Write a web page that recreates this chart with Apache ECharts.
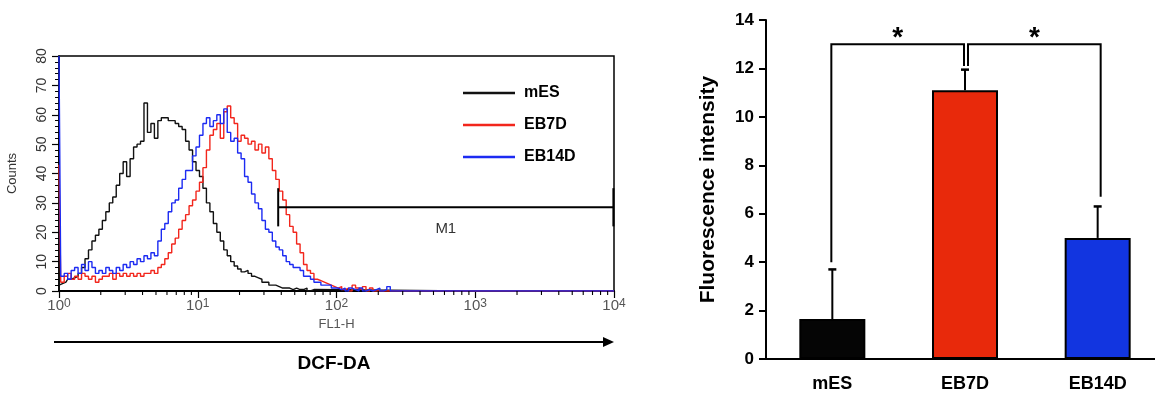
<!DOCTYPE html>
<html>
<head>
<meta charset="utf-8">
<script src="https://cdn.jsdelivr.net/npm/echarts@6/dist/echarts.min.js"></script>
<style>
html, body { margin: 0; padding: 0; background: #fff; }
#chart { width: 1155px; height: 398px; }
</style>
</head>
<body>
<div id="chart"></div>
<script>
// FL1-H histogram, counts per channel (40 channels per decade, channel 0 = 10^0)
var channelsPerDecade = 40;
var mesCounts = [2, 2.5, 3, 4, 4.5, 5, 6, 8, 11, 14, 17, 19, 21, 24, 27, 30, 32, 36, 40, 44,
  39, 45, 49, 50, 51, 64, 54, 57, 52, 58, 59, 59, 58, 58, 57, 56, 55, 51, 48, 44,
  41, 39, 35, 30, 27, 23, 20, 17, 14, 12, 10, 8.5, 7.5, 6.5, 7, 6, 5, 4.5, 4, 3,
  3, 2, 2, 1.5, 1, 1, 1, 0.5, 1, 0.5, 0.5, 1, 0, 0.5, 0];
var eb7dCounts = [43, 3, 5, 6, 4, 5, 4, 6, 5, 4, 5, 3, 4, 5, 5, 6, 4, 6, 5, 6, 5,
  6, 5, 6, 5, 6, 6, 7, 6, 8, 9, 11, 13, 16, 18, 21, 24, 26, 29, 31, 34,
  37, 42, 48, 53, 55, 57, 52, 61, 63, 59, 57, 51, 53, 52, 50, 51, 48, 50, 47, 49,
  45, 41, 38, 34, 31, 26, 22, 20, 16, 13, 9, 7, 6, 4, 3.5, 3, 2.5, 2, 1.5, 1,
  1.5, 0.5, 1, 0, 2, 1, 0.5, 1.5, 0, 1, 0];
var eb14dCounts = [80, 5, 6, 4, 7, 8, 6, 9, 7, 10, 8, 6, 7, 6, 8, 7, 6, 8, 7, 9, 8,
  10, 9, 11, 10, 12, 11, 13, 12, 17, 21, 23, 27, 30, 31, 35, 38, 41, 41, 46, 49,
  53, 57, 59, 56, 58, 60, 57, 62, 54, 51, 52, 47, 45, 39, 37, 33, 30, 28, 24, 21,
  20, 17, 15, 14, 12, 10, 9, 8, 8, 7, 5, 5, 4, 3, 3, 2, 2, 2, 1, 1,
  0.5, 1, 0, 1, 0.5, 0, 1, 0, 0.5, 0, 0.5, 1, 0, 0.5, 1.5, 0];
var histNames = ['mES', 'EB7D', 'EB14D'];
var histColors = ['#111111', '#f2261c', '#1c2bf2'];
var fl1Max = 10000;
var gateRange = [38, 9900];   // M1 marker
var gateLevel = 28.5;
var logMinorTicks = [2, 3, 4, 5, 6, 7, 8, 9, 20, 30, 40, 50, 60, 70, 80, 90,
  200, 300, 400, 500, 600, 700, 800, 900, 2000, 3000, 4000, 5000, 6000, 7000, 8000, 9000];

// bar chart
var groups = ['mES', 'EB7D', 'EB14D'];
var meanIntensity = [1.65, 11.1, 5.0];
var sdIntensity = [2.05, 0.85, 1.3];
var barColors = ['#050505', '#e8290b', '#1235e0'];
var bracketFrom = [0, 1];
var bracketTo = [1, 2];
var bracketStartY = [4.0, 12.1];
var bracketEndY = [12.1, 6.7];
var bracketTopY = 13;

var FONT = 'Liberation Sans, Arial, sans-serif';

function histData(counts) {
  var d = counts.map(function (c, i) { return [Math.pow(10, i / channelsPerDecade), c]; });
  d.push([fl1Max, 0]);
  return d;
}

var chart = echarts.init(document.getElementById('chart'), null, { renderer: 'canvas' });

var histSeries = [mesCounts, eb7dCounts, eb14dCounts].map(function (c, k) {
  return {
    name: histNames[k],
    type: 'line',
    xAxisIndex: 0,
    yAxisIndex: 0,
    data: histData(c),
    symbol: 'none',
    step: 'middle',
    clip: true,
    color: histColors[k],
    lineStyle: { color: histColors[k], width: 1.4 },
    z: 3
  };
});

chart.setOption({
  animation: false,
  backgroundColor: '#fff',
  textStyle: { fontFamily: FONT },
  grid: [
    { left: 59, top: 56, width: 555, height: 235, show: true, borderColor: '#000', borderWidth: 1.5,
      backgroundColor: 'transparent', outerBoundsMode: 'none', containLabel: false },
    { left: 766, top: 20, width: 398, height: 339, outerBoundsMode: 'none', containLabel: false }
  ],
  legend: {
    data: histNames,
    orient: 'vertical',
    left: 458,
    top: 80,
    icon: 'rect',
    itemWidth: 52,
    itemHeight: 2.5,
    itemGap: 16,
    textStyle: { fontFamily: FONT, fontWeight: 'bold', fontSize: 16, color: '#000', padding: [0, 0, 0, 4] }
  },
  xAxis: [
    {
      gridIndex: 0,
      type: 'log',
      logBase: 10,
      min: 1,
      max: fl1Max,
      name: 'FL1-H',
      nameLocation: 'middle',
      nameGap: 27,
      nameTextStyle: { fontFamily: FONT, fontSize: 13, color: '#555' },
      axisLine: { show: true, lineStyle: { color: '#000', width: 2 } },
      axisTick: { show: true, length: 7, lineStyle: { color: '#000', width: 1.2 } },
      splitLine: { show: false },
      minorSplitLine: { show: false },
      axisLabel: {
        margin: 7,
        color: '#555',
        fontSize: 15,
        fontFamily: FONT,
        formatter: function (v) {
          return '10{e|' + Math.round(Math.log10(v)) + '}';
        },
        rich: { e: { fontSize: 12, color: '#555', fontFamily: FONT, verticalAlign: 'top', lineHeight: 11 } }
      }
    },
    {
      gridIndex: 1,
      type: 'category',
      data: groups,
      axisLine: { show: true, lineStyle: { color: '#000', width: 2 } },
      axisTick: { show: false },
      splitLine: { show: false },
      axisLabel: { margin: 16, color: '#000', fontSize: 18, fontWeight: 'bold', fontFamily: FONT }
    }
  ],
  yAxis: [
    {
      gridIndex: 0,
      type: 'value',
      min: 0,
      max: 80,
      interval: 10,
      name: 'Counts',
      nameLocation: 'middle',
      nameRotate: 90,
      nameGap: 40,
      nameTextStyle: { fontFamily: FONT, fontSize: 13, color: '#333' },
      axisLine: { show: true, lineStyle: { color: '#000', width: 1.5 } },
      axisTick: { show: true, length: 7, lineStyle: { color: '#000', width: 1.2 } },
      minorTick: { show: true, splitNumber: 5, length: 4, lineStyle: { color: '#000', width: 1 } },
      splitLine: { show: false },
      minorSplitLine: { show: false },
      axisLabel: { rotate: 90, margin: 10, fontSize: 14, color: '#333', fontFamily: FONT }
    },
    {
      gridIndex: 1,
      type: 'value',
      min: 0,
      max: 14,
      interval: 2,
      name: 'Fluorescence intensity',
      nameLocation: 'middle',
      nameRotate: 90,
      nameGap: 47,
      nameTextStyle: { fontFamily: FONT, fontSize: 21, fontWeight: 'bold', color: '#000' },
      axisLine: { show: true, lineStyle: { color: '#000', width: 2 } },
      axisTick: { show: true, length: 7, lineStyle: { color: '#000', width: 2 } },
      splitLine: { show: false },
      axisLabel: { margin: 12, fontSize: 17, fontWeight: 'bold', color: '#000', fontFamily: FONT }
    }
  ],
  graphic: [
    { type: 'line', shape: { x1: 54, y1: 342, x2: 606, y2: 342 }, style: { stroke: '#000', lineWidth: 2 } },
    { type: 'polygon', shape: { points: [[603, 337], [614, 342], [603, 347]] }, style: { fill: '#000' } },
    { type: 'text', x: 334, y: 364, style: { text: 'DCF-DA', font: 'bold 19px ' + FONT, fill: '#000',
      align: 'center', verticalAlign: 'middle', textAlign: 'center', textVerticalAlign: 'middle' } }
  ],
  series: histSeries.concat([
    {
      type: 'custom',
      name: 'log minor ticks',
      xAxisIndex: 0,
      yAxisIndex: 0,
      silent: true,
      clip: false,
      z: 4,
      data: logMinorTicks.map(function (v) { return [v, 0]; }),
      renderItem: function (params, api) {
        var p = api.coord([api.value(0), 0]);
        return { type: 'line', shape: { x1: p[0], y1: p[1], x2: p[0], y2: p[1] + 4 },
          style: { stroke: '#000', lineWidth: 1.1 } };
      }
    },
    {
      type: 'custom',
      name: 'M1',
      xAxisIndex: 0,
      yAxisIndex: 0,
      silent: true,
      clip: false,
      z: 6,
      data: [[gateRange[0], gateRange[1], gateLevel]],
      renderItem: function (params, api) {
        var a = api.coord([api.value(0), api.value(2)]);
        var b = api.coord([api.value(1), api.value(2)]);
        var up = api.coord([api.value(0), api.value(2) + 6.5]);
        var h = a[1] - up[1];
        var mid = api.coord([Math.sqrt(api.value(0) * api.value(1)), api.value(2)]);
        return {
          type: 'group',
          children: [
            { type: 'line', shape: { x1: a[0], y1: a[1], x2: b[0], y2: b[1] }, style: { stroke: '#000', lineWidth: 2 } },
            { type: 'line', shape: { x1: a[0], y1: a[1] - h, x2: a[0], y2: a[1] + h }, style: { stroke: '#000', lineWidth: 2 } },
            { type: 'line', shape: { x1: b[0], y1: b[1] - h, x2: b[0], y2: b[1] + h }, style: { stroke: '#000', lineWidth: 2 } },
            { type: 'text', style: { text: 'M1', x: mid[0], y: mid[1] + 22, font: '15px ' + FONT, fill: '#333',
              align: 'center', verticalAlign: 'middle', textAlign: 'center', textVerticalAlign: 'middle' } }
          ]
        };
      }
    },
    {
      type: 'bar',
      name: 'Fluorescence intensity',
      xAxisIndex: 1,
      yAxisIndex: 1,
      barWidth: 66,
      data: meanIntensity.map(function (v, i) {
        return { value: v, itemStyle: { color: barColors[i], borderColor: '#000', borderWidth: 2 } };
      }),
      z: 2
    },
    {
      type: 'custom',
      name: 'SD',
      xAxisIndex: 1,
      yAxisIndex: 1,
      silent: true,
      z: 3,
      data: meanIntensity.map(function (v, i) { return [i, v, sdIntensity[i]]; }),
      renderItem: function (params, api) {
        var i = api.value(0);
        var base = api.coord([i, api.value(1)]);
        var top = api.coord([i, api.value(1) + api.value(2)]);
        return {
          type: 'group',
          children: [
            { type: 'line', shape: { x1: base[0], y1: base[1], x2: top[0], y2: top[1] }, style: { stroke: '#000', lineWidth: 2 } },
            { type: 'line', shape: { x1: top[0] - 4, y1: top[1], x2: top[0] + 4, y2: top[1] }, style: { stroke: '#000', lineWidth: 2.5 } }
          ]
        };
      }
    },
    {
      type: 'custom',
      name: 'significance',
      xAxisIndex: 1,
      yAxisIndex: 1,
      silent: true,
      clip: false,
      z: 4,
      data: bracketFrom.map(function (f, i) { return [f, bracketTo[i], bracketStartY[i], bracketEndY[i], bracketTopY]; }),
      renderItem: function (params, api) {
        var shift = params.dataIndex === 0 ? -1 : 3;
        var p1 = api.coord([api.value(0), api.value(2)]);
        var p4 = api.coord([api.value(1), api.value(3)]);
        var yTop = api.coord([api.value(0), api.value(4)])[1];
        var x1 = p1[0] + shift, x2 = p4[0] + shift;
        return {
          type: 'group',
          children: [
            { type: 'polyline', shape: { points: [[x1, p1[1]], [x1, yTop], [x2, yTop], [x2, p4[1]]] },
              style: { stroke: '#000', lineWidth: 2, fill: null } },
            { type: 'text', style: { text: '*', x: (x1 + x2) / 2, y: yTop - 6, font: 'bold 28px ' + FONT, fill: '#000',
              align: 'center', verticalAlign: 'middle', textAlign: 'center', textVerticalAlign: 'middle' } }
          ]
        };
      }
    }
  ])
});
</script>
</body>
</html>
